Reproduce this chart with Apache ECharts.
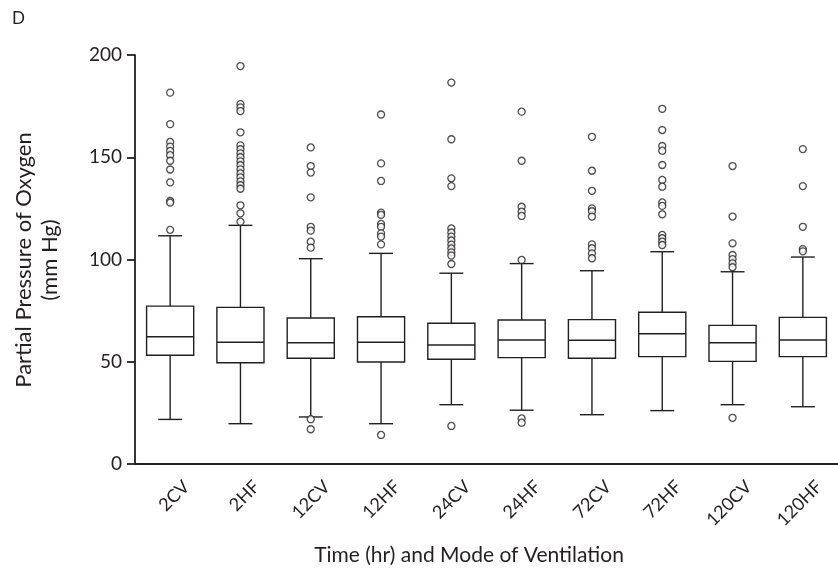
<!DOCTYPE html>
<html>
<head>
<meta charset="utf-8">
<script src="https://cdn.jsdelivr.net/npm/echarts@6/dist/echarts.min.js"></script>
<style>
  html, body { margin: 0; padding: 0; background: #fff; }
  #myChart { width: 838px; height: 571px; }
</style>
</head>
<body>
<div id="myChart"></div>
<script>
// categories: time (hr) + ventilation mode
const categories = ['2CV', '2HF', '12CV', '12HF', '24CV', '24HF', '72CV', '72HF', '120CV', '120HF']
// box statistics (mm Hg)
const lowWhisker = [21.8, 19.7, 23.0, 19.7, 29.0, 26.3, 24.1, 26.1, 29.0, 28.0]
const q1 = [53.2, 49.5, 51.7, 49.9, 51.2, 52.0, 51.7, 52.5, 50.2, 52.5]
const median = [62.2, 59.5, 59.3, 59.5, 58.2, 60.6, 60.5, 63.7, 59.3, 60.6]
const q3 = [77.2, 76.6, 71.4, 72.0, 68.8, 70.4, 70.6, 74.2, 67.8, 71.7]
const highWhisker = [111.6, 116.7, 100.4, 103.0, 93.3, 98.0, 94.5, 103.8, 94.0, 101.2]
// outliers, one list per category (same order)
const outliers = [
  [181.6, 166.2, 157.5, 155.2, 153.1, 151.0, 148.3, 144.0, 137.7, 128.6, 127.8, 114.5],
  [194.6, 176.0, 174.4, 172.6, 162.2, 155.8, 153.9, 151.9, 150.0, 148.0, 146.1, 144.1, 142.1, 140.2, 138.2, 136.3, 134.6, 126.5, 122.6, 118.5],
  [154.8, 145.7, 142.5, 130.4, 116.0, 114.1, 108.7, 105.8, 21.9, 17.0],
  [170.9, 147.0, 138.4, 122.9, 121.8, 117.4, 116.0, 112.8, 111.2, 107.4, 14.2],
  [186.5, 158.8, 139.7, 135.9, 115.2, 113.2, 111.2, 109.3, 107.3, 105.4, 103.5, 101.9, 97.8, 18.6],
  [172.3, 148.3, 125.8, 123.4, 121.3, 99.8, 22.3, 20.2],
  [160.0, 143.4, 133.6, 125.0, 123.6, 121.0, 107.4, 105.5, 103.0, 100.6],
  [173.7, 163.3, 155.5, 153.2, 146.2, 138.9, 135.6, 127.9, 126.2, 122.1, 112.0, 110.4, 108.7, 107.1],
  [145.7, 121.0, 107.9, 102.2, 100.2, 98.1, 96.2, 22.6],
  [154.0, 135.9, 116.0, 105.1, 104.0]
]
const yTicks = [0, 50, 100, 150, 200]

const ink = '#231f20'
const font = 'Lato'

const boxData = categories.map((c, i) => [i, lowWhisker[i], q1[i], median[i], q3[i], highWhisker[i]])
const outlierData = []
outliers.forEach((list, i) => {
  list.forEach(v => outlierData.push([i, v]))
})

const myChart = echarts.init(document.getElementById('myChart'))
myChart.setOption({
  animation: false,
  grid: { left: 135, right: -7, top: 55, bottom: 107 },
  graphic: [
    { type: 'text', left: 12, top: 10, style: { text: 'D', fill: ink, font: '17px ' + font } },
    {
      type: 'text', x: 37, y: 260, rotation: Math.PI / 2,
      style: { text: 'Partial Pressure of Oxygen\n(mm Hg)', fill: ink, font: '22px ' + font, align: 'center', verticalAlign: 'middle', lineHeight: 26 }
    },
    {
      type: 'text', x: 469, y: 555,
      style: { text: 'Time (hr) and Mode of Ventilation', fill: ink, font: '21px ' + font, align: 'center', verticalAlign: 'middle' }
    }
  ],
  xAxis: {
    type: 'category',
    data: categories,
    axisLine: { lineStyle: { color: ink, width: 1.8 } },
    axisTick: { show: false },
    axisLabel: { rotate: 45, margin: 36, padding: [0, -23, 0, 0], color: ink, fontSize: 18, fontFamily: font, interval: 0 },
    splitLine: { show: false }
  },
  yAxis: {
    type: 'value',
    min: 0,
    max: 200,
    interval: 50,
    axisLine: { show: true, lineStyle: { color: ink, width: 1.8 } },
    axisTick: { show: true, length: 8, lineStyle: { color: ink, width: 1.8 } },
    axisLabel: { margin: 13, color: ink, fontSize: 19, fontFamily: font,
      formatter: v => yTicks.includes(v) ? String(v) : '' },
    splitLine: { show: false }
  },
  series: [
    {
      type: 'custom',
      data: boxData,
      encode: { x: 0, y: [1, 2, 3, 4, 5] },
      renderItem: function (params, api) {
        const x = api.value(0)
        const lo = api.coord([x, api.value(1)])
        const b = api.coord([x, api.value(2)])
        const m = api.coord([x, api.value(3)])
        const t = api.coord([x, api.value(4)])
        const hi = api.coord([x, api.value(5)])
        const band = api.size([1, 0])[0]
        const half = band * 0.335
        const cap = band * 0.17
        const cx = lo[0]
        const st = { stroke: ink, lineWidth: 1.4, fill: null }
        return {
          type: 'group',
          children: [
            { type: 'line', shape: { x1: cx, y1: lo[1], x2: cx, y2: b[1] }, style: st },
            { type: 'line', shape: { x1: cx, y1: t[1], x2: cx, y2: hi[1] }, style: st },
            { type: 'line', shape: { x1: cx - cap, y1: lo[1], x2: cx + cap, y2: lo[1] }, style: st },
            { type: 'line', shape: { x1: cx - cap, y1: hi[1], x2: cx + cap, y2: hi[1] }, style: st },
            { type: 'rect', shape: { x: cx - half, y: t[1], width: half * 2, height: b[1] - t[1] }, style: { stroke: ink, lineWidth: 1.4, fill: '#fff' } },
            { type: 'line', shape: { x1: cx - half, y1: m[1], x2: cx + half, y2: m[1] }, style: st }
          ]
        }
      }
    },
    {
      type: 'scatter',
      data: outlierData,
      symbol: 'circle',
      symbolSize: 7,
      itemStyle: { color: '#fff', borderColor: ink, borderWidth: 1.3 }
    }
  ]
})
</script>
</body>
</html>
